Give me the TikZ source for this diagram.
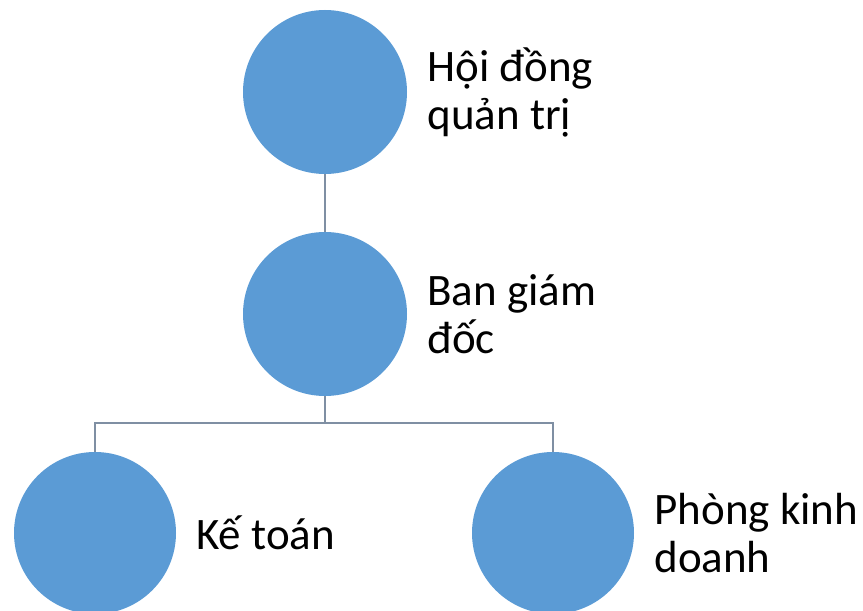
\documentclass[tikz,border=0pt]{standalone}
\usepackage{fontspec}
\setmainfont{Carlito}
\usetikzlibrary{positioning}
\definecolor{xanhvong}{HTML}{5B9BD5}
\definecolor{xamnoi}{HTML}{7F8FA3}
\begin{document}
\begin{tikzpicture}[x=1pt,y=1pt,
        vong/.style={circle, fill=xanhvong, inner sep=0pt, minimum size=164pt},
        nhan/.style={align=left, inner sep=0pt, font=\fontsize{45}{48}\selectfont},
        noi/.style={line width=2pt, draw=xamnoi}]
        \useasboundingbox (0,0) rectangle (863,611);
        % Vòng tròn
        \node[vong] (hdqt) at (325,519) {};
        \node[vong] (bgd) at (325,297) {};
        \node[vong, minimum size=162pt] (kt) at (95,78) {};
        \node[vong, minimum size=162pt] (pkd) at (553,78) {};
        % Đường nối
        \coordinate (re) at (325,188);
        \draw[noi] (hdqt) -- (bgd);
        \draw[noi] (bgd) -- (re);
        \draw[noi] (kt) |- (re) -| (pkd);
        % Nhãn
        \node[nhan, right=20pt of hdqt] (nhdqt) {Hội đồng\\quản trị};
        \node[nhan, right=20pt of bgd] (nbgd) {Ban giám\\đốc};
        \node[nhan, right=20pt of kt] (nkt) {Kế toán};
        \node[nhan, right=20pt of pkd] (npkd) {Phòng kinh\\doanh};
    \end{tikzpicture}
\end{document}
